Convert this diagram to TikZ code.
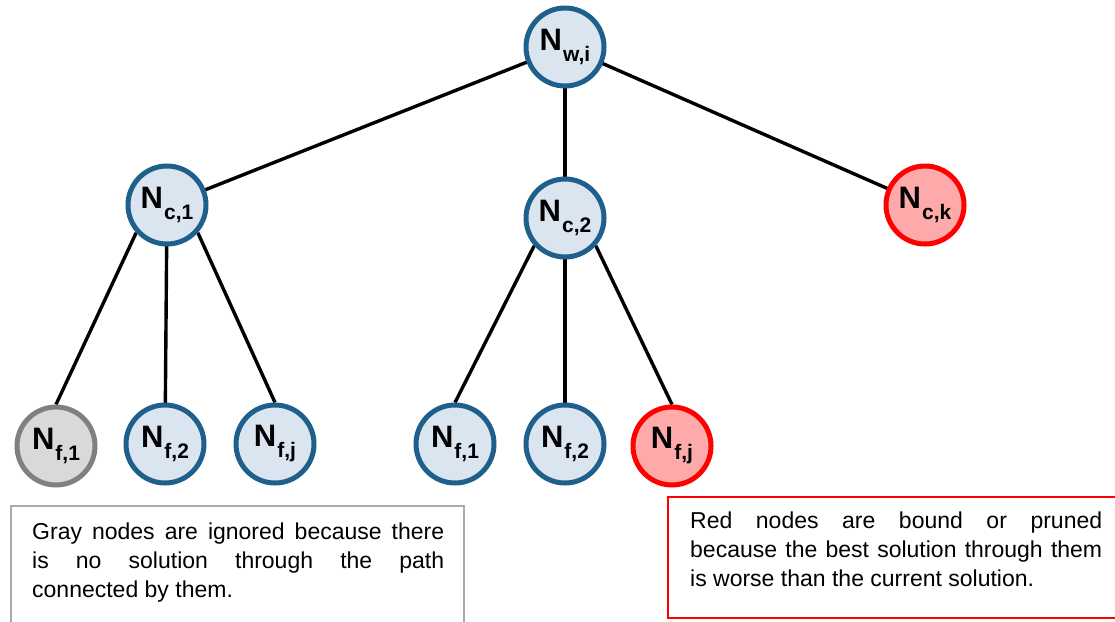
\documentclass[tikz,border=0pt]{standalone}
\usepackage{fontspec}
\setmainfont{Liberation Sans}
\usetikzlibrary{backgrounds}
\definecolor{bfill}{RGB}{218,229,240}
\definecolor{bdraw}{RGB}{31,95,140}
\definecolor{rfill}{RGB}{255,170,170}
\definecolor{rdraw}{RGB}{255,0,0}
\definecolor{gfill}{RGB}{217,217,217}
\definecolor{gdraw}{RGB}{128,128,128}
\definecolor{gbox}{RGB}{170,170,170}
\newcommand\nlab[1]{N\kern1pt\raisebox{-11pt}{\fontsize{21}{21}\selectfont #1}}
\tikzset{
  tnode/.style={circle, minimum size=78pt, inner sep=0pt, line width=5pt,
    font=\fontsize{31}{31}\selectfont\bfseries},
  bluenode/.style={tnode, draw=bdraw, fill=bfill},
  rednode/.style={tnode, draw=rdraw, fill=rfill},
  graynode/.style={tnode, draw=gdraw, fill=gfill},
  edge/.style={line width=3.4pt, black},
  note/.style={inner sep=0pt, text width=412pt, align=justify,
    font=\fontsize{23}{29}\selectfont, anchor=north west},
}
\begin{document}
\begin{tikzpicture}[x=1pt,y=-1pt]
\useasboundingbox (0,0) rectangle (1115,621);
% nodes
\node[bluenode] (nw) at (565,47) {\nlab{w,i}};
\node[bluenode] (nc1) at (167,205) {\nlab{c,1}};
\node[bluenode] (nc2) at (565,218) {\nlab{c,2}};
\node[rednode] (nck) at (925,205) {\nlab{c,k}};
\node[graynode] (af1) at (56,446) {\nlab{f,1}};
\node[bluenode] (af2) at (165,444) {\nlab{f,2}};
\node[bluenode] (afj) at (275,444) {\nlab{f,j}};
\node[bluenode] (bf1) at (455,444) {\nlab{f,1}};
\node[bluenode] (bf2) at (565,444) {\nlab{f,2}};
\node[rednode] (bfj) at (672,446) {\nlab{f,j}};
% edges
\begin{scope}[on background layer]
\draw[edge] (nw.center) -- (nc1.center);
\draw[edge] (nw.center) -- (nc2.center);
\draw[edge] (nw.center) -- (nck.center);
\draw[edge] (nc1.222) -- (af1.north);
\draw[edge] (nc1.center) -- (af2.center);
\draw[edge] (nc1.318) -- (afj.north);
\draw[edge] (nc2.222) -- (bf1.north);
\draw[edge] (nc2.center) -- (bf2.center);
\draw[edge] (nc2.318) -- (bfj.north);
\end{scope}
% note boxes
\coordinate (gtl) at (11,506);
\coordinate (gtr) at (464,506);
\coordinate (gbl) at (11,625);
\coordinate (gbr) at (464,625);
\draw[gbox, line width=2pt] (gbl) -- (gtl) -- (gtr) -- (gbr);
\node[note] (gnote) at (32,523) {Gray nodes are ignored because there\linebreak is no solution through the path\linebreak connected by them.};
\coordinate (rtl) at (668,497);
\coordinate (rtr) at (1118,497);
\coordinate (rbl) at (668,618);
\coordinate (rbr) at (1118,618);
\draw[rdraw, line width=2pt] (rtr) -- (rtl) -- (rbl) -- (rbr);
\node[note] (rnote) at (690,512) {Red nodes are bound or pruned\linebreak because the best solution through them\linebreak is worse than the current solution.};
\end{tikzpicture}
\end{document}
